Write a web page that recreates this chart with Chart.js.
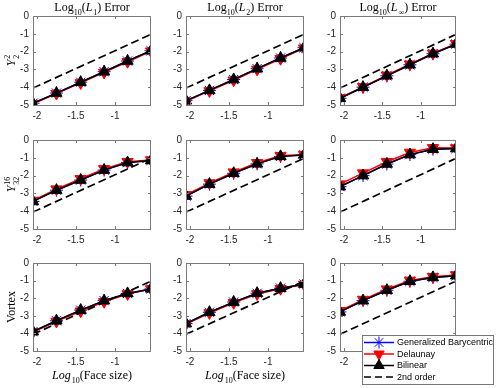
<!DOCTYPE html>
<html>
<head>
<meta charset="utf-8">
<script src="https://cdn.jsdelivr.net/npm/chart.js@4.4.1/dist/chart.umd.min.js"></script>
<style>
html, body { margin: 0; padding: 0; background: #fff; }
#wrap { position: relative; width: 500px; height: 388px; }
canvas { position: absolute; left: 0; top: 0; }
</style>
</head>
<body>
<div id="wrap"></div>
<script>
// log10 of face size, shared by every panel
const xVals = [-2.05, -1.75, -1.44, -1.14, -0.84, -0.54];
const xTicks = [-2, -1.5, -1];
const yTicks = [-5, -4, -3, -2, -1, 0];

// 2nd order reference line (two end points)
const orderX = [-2.05, -0.54];
const orderY = [-4.05, -1.03];

// Y_2^2
const gbY22L1 = [-4.90, -4.33, -3.72, -3.13, -2.53, -1.95];
const delY22L1 = [-4.93, -4.36, -3.76, -3.17, -2.57, -1.98];
const bilY22L1 = [-4.90, -4.33, -3.72, -3.13, -2.53, -1.95];
const gbY22L2 = [-4.76, -4.18, -3.57, -2.96, -2.36, -1.78];
const delY22L2 = [-4.79, -4.21, -3.61, -3.00, -2.40, -1.81];
const bilY22L2 = [-4.76, -4.18, -3.57, -2.96, -2.36, -1.78];
const gbY22Li = [-4.62, -4.00, -3.36, -2.74, -2.12, -1.58];
const delY22Li = [-4.60, -3.98, -3.33, -2.71, -2.10, -1.56];
const bilY22Li = [-4.62, -4.00, -3.36, -2.74, -2.12, -1.58];

// Y_32^16
const gbY32L1 = [-3.45, -2.82, -2.25, -1.69, -1.27, -1.15];
const delY32L1 = [-3.40, -2.76, -2.18, -1.62, -1.22, -1.13];
const bilY32L1 = [-3.45, -2.82, -2.25, -1.69, -1.27, -1.15];
const gbY32L2 = [-3.15, -2.48, -1.87, -1.34, -0.92, -0.84];
const delY32L2 = [-3.08, -2.42, -1.81, -1.28, -0.88, -0.82];
const bilY32L2 = [-3.15, -2.48, -1.87, -1.34, -0.92, -0.84];
const gbY32Li = [-2.62, -2.00, -1.35, -0.82, -0.52, -0.48];
const delY32Li = [-2.48, -1.86, -1.22, -0.70, -0.44, -0.45];
const bilY32Li = [-2.62, -2.00, -1.35, -0.82, -0.52, -0.48];

// Vortex
const gbVxL1 = [-3.90, -3.28, -2.68, -2.14, -1.73, -1.47];
const delVxL1 = [-3.92, -3.32, -2.74, -2.20, -1.76, -1.48];
const bilVxL1 = [-3.90, -3.28, -2.68, -2.14, -1.73, -1.47];
const gbVxL2 = [-3.44, -2.80, -2.22, -1.72, -1.43, -1.20];
const delVxL2 = [-3.47, -2.84, -2.26, -1.76, -1.46, -1.22];
const bilVxL2 = [-3.44, -2.80, -2.22, -1.72, -1.43, -1.20];
const gbVxLi = [-2.78, -2.14, -1.55, -1.04, -0.82, -0.72];
const delVxLi = [-2.72, -2.08, -1.49, -0.99, -0.78, -0.68];
const bilVxLi = [-2.78, -2.14, -1.55, -1.04, -0.82, -0.72];

const legendNames = ["Generalized Barycentric", "Delaunay", "Bilinear", "2nd order"];

// panel boxes in page pixels
const colL = [33, 186, 340], colR = [151, 304, 456];
const rowT = [16, 140, 263], rowB = [105, 229, 351];

const titles = [
  [["Log", "r"], ["10", "sub"], ["(", "r"], ["L", "i"], ["1", "sub"], [") Error", "r"]],
  [["Log", "r"], ["10", "sub"], ["(", "r"], ["L", "i"], ["2", "sub"], [") Error", "r"]],
  [["Log", "r"], ["10", "sub"], ["(", "r"], ["L", "i"], ["\u221E", "sub"], [") Error", "r"]]
];
const ylabels = [
  [["Y", "i"], ["2|2", "ss"]],
  [["Y", "i"], ["32|16", "ss"]],
  [["Vortex", "r"]]
];
const xlabel = [["Log", "i"], ["10", "sub"], ["(Face size)", "r"]];

const panels = [
  [gbY22L1, delY22L1, bilY22L1], [gbY22L2, delY22L2, bilY22L2], [gbY22Li, delY22Li, bilY22Li],
  [gbY32L1, delY32L1, bilY32L1], [gbY32L2, delY32L2, bilY32L2], [gbY32Li, delY32Li, bilY32Li],
  [gbVxL1, delVxL1, bilVxL1], [gbVxL2, delVxL2, bilVxL2], [gbVxLi, delVxLi, bilVxLi]
];

function fontFor(kind, size) {
  const small = Math.round(size * 0.7);
  if (kind === "i") return "italic " + size + "px 'Liberation Serif'";
  if (kind === "sub" || kind === "sup" || kind === "ss") return small + "px 'Liberation Serif'";
  return size + "px 'Liberation Serif'";
}
function partWidth(ctx, p, size) {
  ctx.font = fontFor(p[1], size);
  if (p[1] === "ss") {
    const ab = p[0].split("|");
    return Math.max(ctx.measureText(ab[0]).width, ctx.measureText(ab[1]).width);
  }
  return ctx.measureText(p[0]).width + (p[1] === "i" ? 1 : 0);
}
function drawRich(ctx, parts, cx, cy, size, rot) {
  ctx.save();
  ctx.translate(cx, cy);
  if (rot) ctx.rotate(rot);
  let total = 0;
  parts.forEach(p => total += partWidth(ctx, p, size));
  let x = -total / 2;
  ctx.textAlign = "left";
  ctx.textBaseline = "alphabetic";
  ctx.fillStyle = "#000";
  parts.forEach(p => {
    const w = partWidth(ctx, p, size);
    if (p[1] === "ss") {
      const ab = p[0].split("|");
      ctx.fillText(ab[0], x, size * 0.3);
      ctx.fillText(ab[1], x, -size * 0.42);
    } else {
      const dy = p[1] === "sub" ? size * 0.3 : (p[1] === "sup" ? -size * 0.42 : 0);
      ctx.fillText(p[0], x, dy);
    }
    x += w;
  });
  ctx.restore();
}

function marker(ctx, style, x, y, r, color) {
  ctx.save();
  ctx.strokeStyle = color;
  ctx.fillStyle = color;
  ctx.lineWidth = 1;
  ctx.beginPath();
  if (style === "star") {
    for (let k = 0; k < 4; k++) {
      const a = k * Math.PI / 4;
      ctx.moveTo(x - Math.cos(a) * r, y - Math.sin(a) * r);
      ctx.lineTo(x + Math.cos(a) * r, y + Math.sin(a) * r);
    }
    ctx.stroke();
  } else {
    const s = style === "down" ? -1 : 1;
    ctx.moveTo(x, y - s * r);
    ctx.lineTo(x + r * 0.866, y + s * r * 0.5);
    ctx.lineTo(x - r * 0.866, y + s * r * 0.5);
    ctx.closePath();
    ctx.fill();
    ctx.stroke();
  }
  ctx.restore();
}

function drawLegend(ctx) {
  const bx = 362, by = 335, bw = 131, bh = 49;
  ctx.save();
  ctx.fillStyle = "#fff";
  ctx.fillRect(bx, by, bw, bh);
  ctx.strokeStyle = "#777";
  ctx.lineWidth = 1;
  ctx.strokeRect(bx + 0.5, by + 0.5, bw, bh);
  const rowsY = [342.5, 354, 365.5, 377];
  const cols = ["#0000ff", "#ff0000", "#000000", "#000000"];
  const styles = ["star", "down", "up", null];
  rowsY.forEach((y, i) => {
    ctx.strokeStyle = cols[i];
    ctx.lineWidth = 1.5;
    ctx.setLineDash(i === 3 ? [7, 4] : []);
    ctx.beginPath();
    ctx.moveTo(364, y);
    ctx.lineTo(394, y);
    ctx.stroke();
    ctx.setLineDash([]);
    if (styles[i]) marker(ctx, styles[i], 379, y, 6, cols[i]);
    ctx.fillStyle = "#000";
    ctx.font = "9px 'Liberation Sans'";
    ctx.textBaseline = "middle";
    ctx.textAlign = "left";
    ctx.fillText(legendNames[i], 397, y + 0.5);
  });
  ctx.restore();
}

function makeFrame(row, col) {
  return {
    id: "frame",
    afterDraw(chart) {
      const ctx = chart.ctx;
      const a = chart.chartArea;
      const xs = chart.scales.x, ys = chart.scales.y;
      ctx.save();
      ctx.strokeStyle = "#7a7a7a";
      ctx.lineWidth = 1;
      ctx.strokeRect(a.left + 0.5, a.top + 0.5, a.right - a.left - 1, a.bottom - a.top);
      ctx.beginPath();
      xTicks.forEach(v => {
        const px = Math.round(xs.getPixelForValue(v)) + 0.5;
        ctx.moveTo(px, a.bottom); ctx.lineTo(px, a.bottom - 3);
        ctx.moveTo(px, a.top); ctx.lineTo(px, a.top + 3);
      });
      yTicks.forEach(v => {
        const py = Math.round(ys.getPixelForValue(v)) + 0.5;
        ctx.moveTo(a.left, py); ctx.lineTo(a.left + 3, py);
        ctx.moveTo(a.right, py); ctx.lineTo(a.right - 3, py);
      });
      ctx.stroke();
      ctx.restore();
      const cx = (a.left + a.right) / 2;
      const cy = (a.top + a.bottom) / 2;
      if (row === 0) drawRich(ctx, titles[col], cx, a.top - 5, 12);
      if (col === 0) drawRich(ctx, ylabels[row], 15, cy, 12, -Math.PI / 2);
      if (row === 2 && col < 2) drawRich(ctx, xlabel, cx, 379, 12);
      if (row === 2 && col === 2) drawLegend(ctx);
    }
  };
}

const wrap = document.getElementById("wrap");
panels.forEach((series, idx) => {
  const row = Math.floor(idx / 3), col = idx % 3;
  const cv = document.createElement("canvas");
  cv.width = 500; cv.height = 388;
  cv.style.zIndex = idx;
  wrap.appendChild(cv);
  const pts = arr => xVals.map((x, i) => ({ x: x, y: arr[i] }));
  new Chart(cv, {
    type: "line",
    data: {
      datasets: [
        { data: orderX.map((x, i) => ({ x: x, y: orderY[i] })), borderColor: "#000", borderWidth: 1.7,
          borderDash: [8, 4], pointRadius: 0, order: 0 },
        { data: pts(series[2]), borderColor: "#000", backgroundColor: "#000", borderWidth: 1.5,
          pointStyle: "triangle", pointRadius: 6.5, pointBorderWidth: 1, order: 1 },
        { data: pts(series[1]), borderColor: "#ff0000", backgroundColor: "#ff0000", borderWidth: 1.5,
          pointStyle: "triangle", rotation: 180, pointRadius: 6.5, pointBorderWidth: 1, order: 2 },
        { data: pts(series[0]), borderColor: "#0000ff", backgroundColor: "#0000ff", borderWidth: 1.5,
          pointStyle: "star", pointRadius: 6.5, pointBorderWidth: 1, order: 3 }
      ]
    },
    options: {
      responsive: false,
      animation: false,
      devicePixelRatio: 1,
      layout: {
        padding: { left: colL[col] - 30, top: rowT[row], right: 500 - colR[col], bottom: 388 - rowB[row] - 28 }
      },
      plugins: { legend: { display: false }, tooltip: { enabled: false } },
      scales: {
        x: {
          type: "linear", min: orderX[0], max: orderX[1],
          grid: { display: false, drawTicks: false }, border: { display: false },
          afterBuildTicks: s => { s.ticks = xTicks.map(v => ({ value: v })); },
          afterFit: s => { s.height = 28; s.paddingLeft = 0; s.paddingRight = 0; },
          ticks: { padding: 5, color: "#262626", maxRotation: 0, font: { family: "Liberation Sans", size: 10 },
                   callback: v => String(v) }
        },
        y: {
          min: -5, max: 0,
          grid: { display: false, drawTicks: false }, border: { display: false },
          afterBuildTicks: s => { s.ticks = yTicks.map(v => ({ value: v })); },
          afterFit: s => { s.width = 30; s.paddingTop = 0; s.paddingBottom = 0; },
          ticks: { padding: 4, color: "#262626", font: { family: "Liberation Sans", size: 10 },
                   callback: v => String(v) }
        }
      }
    },
    plugins: [makeFrame(row, col)]
  });
});
</script>
</body>
</html>
